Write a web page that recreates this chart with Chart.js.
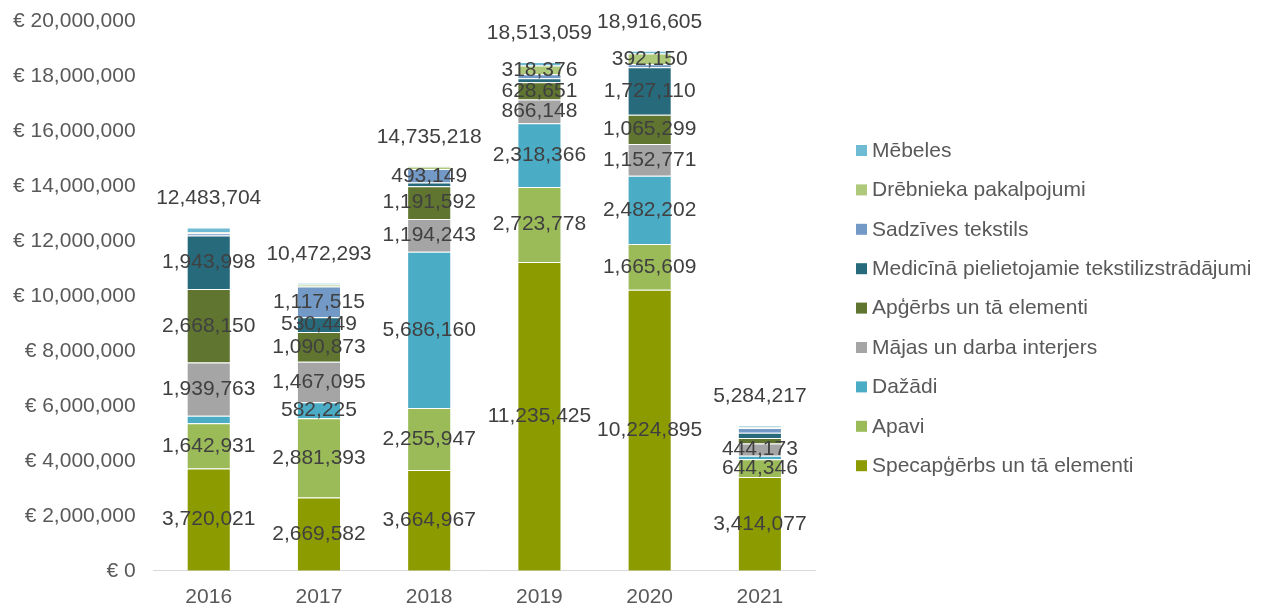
<!DOCTYPE html>
<html>
<head>
<meta charset="utf-8">
<script src="https://cdn.jsdelivr.net/npm/chart.js@4.4.1/dist/chart.umd.min.js"></script>
<style>
    html, body { margin: 0; padding: 0; background: #ffffff; }
    #wrap { width: 1265px; height: 608px; }
</style>
</head>
<body>
<div id="wrap"><canvas id="grafiks" width="1265" height="608"></canvas></div>
<script>
// Gadi (kategorijas)
const gadi = ['2016', '2017', '2018', '2019', '2020', '2021'];

// Sēriju vērtības (EUR), no apakšas uz augšu
const specapgerbs = [3720021, 2669582, 3664967, 11235425, 10224895, 3414077];
const apavi = [1642931, 2881393, 2255947, 2723778, 1665609, 644346];
const dazadi = [278841, 582225, 5686160, 2318366, 2482202, 130000];
const majasInterjers = [1939763, 1467095, 1194243, 866148, 1152771, 444173];
const apgerbs = [2668150, 1090873, 1191592, 628651, 1065299, 200000];
const mediciniskie = [1943998, 530449, 130000, 146315, 1727110, 190000];
const sadzivesTekstils = [85000, 1117515, 493149, 146000, 110000, 170000];
const drebnieks = [35000, 73161, 90000, 318376, 392150, 30000];
const mebeles = [170000, 60000, 29160, 130000, 96569, 61621];

// Kopsummas virs stabiņiem
const kopa = [12483704, 10472293, 14735218, 18513059, 18916605, 5284217];

// Y ass iedaļas
const asisMin = 0;
const asisMax = 20000000;
const asisSolis = 2000000;

const fonts = '"Liberation Sans", Arial, sans-serif';

function formatet(v) {
    return v.toLocaleString('en-US');
}

// Datu etiķetes segmentos un kopsummas virs stabiņiem
const etiketes = {
    id: 'etiketes',
    afterDatasetsDraw(chart) {
        const ctx = chart.ctx;
        ctx.save();
        ctx.font = '21px ' + fonts;
        ctx.fillStyle = '#404040';
        ctx.textAlign = 'center';
        ctx.textBaseline = 'middle';
        chart.data.datasets.forEach((ds, i) => {
            const meta = chart.getDatasetMeta(i);
            meta.data.forEach((bar, j) => {
                const v = ds.data[j];
                if (v < 300000) return; // mazajiem segmentiem etiķetes nav
                ctx.fillText(formatet(v), bar.x, (bar.y + bar.base) / 2);
            });
        });
        const pirma = chart.getDatasetMeta(0);
        kopa.forEach((v, j) => {
            const y = chart.scales.y.getPixelForValue(v) - 29;
            ctx.fillText(formatet(v), pirma.data[j].x, y);
        });
        ctx.restore();
    }
};

// Leģenda labajā pusē (iebūvētā ir par šauru garajam nosaukumam)
const legenda = {
    id: 'legenda',
    afterDraw(chart) {
        const ctx = chart.ctx;
        const area = chart.chartArea;
        const x = area.right + 41;
        const y0 = area.top + 130;
        const solis = 39.4;
        ctx.save();
        ctx.font = '21px ' + fonts;
        ctx.textAlign = 'left';
        ctx.textBaseline = 'middle';
        const ds = chart.data.datasets.slice().reverse();
        ds.forEach((d, k) => {
            const y = y0 + k * solis;
            ctx.fillStyle = d.backgroundColor;
            ctx.fillRect(x, y - 6, 11, 11);
            ctx.fillStyle = '#595959';
            ctx.fillText(d.label, x + 16, y);
        });
        ctx.restore();
    }
};

function serija(nosaukums, dati, krasa) {
    return {
        label: nosaukums,
        data: dati,
        backgroundColor: krasa,
        borderColor: 'rgba(255, 255, 255, 0.55)',
        borderWidth: 1,
        barPercentage: 0.4,
        categoryPercentage: 1
    };
}

const ctx = document.getElementById('grafiks').getContext('2d');
new Chart(ctx, {
    type: 'bar',
    data: {
        labels: gadi,
        datasets: [
            serija('Specapģērbs un tā elementi', specapgerbs, '#8C9C00'),
            serija('Apavi', apavi, '#9BBB59'),
            serija('Dažādi', dazadi, '#4BACC6'),
            serija('Mājas un darba interjers', majasInterjers, '#A5A5A5'),
            serija('Apģērbs un tā elementi', apgerbs, '#5F7530'),
            serija('Medicīnā pielietojamie tekstilizstrādājumi', mediciniskie, '#276A7C'),
            serija('Sadzīves tekstils', sadzivesTekstils, '#7399C6'),
            serija('Drēbnieka pakalpojumi', drebnieks, '#AFC97A'),
            serija('Mēbeles', mebeles, '#6FBBD3')
        ]
    },
    options: {
        responsive: false,
        animation: false,
        layout: {
            padding: { left: -5, top: 0, right: 450, bottom: -16 }
        },
        scales: {
            x: {
                stacked: true,
                grid: { display: false, drawTicks: false },
                border: { display: true, color: '#D9D9D9', width: 1 },
                ticks: {
                    padding: 14,
                    color: '#595959',
                    font: { family: fonts, size: 21 }
                }
            },
            y: {
                stacked: true,
                min: asisMin,
                max: asisMax,
                grid: { display: false, drawTicks: false },
                border: { display: false },
                ticks: {
                    stepSize: asisSolis,
                    padding: 18,
                    color: '#595959',
                    font: { family: fonts, size: 21 },
                    callback: function (v) {
                        return '€ ' + formatet(v);
                    }
                },
                afterFit: function (s) { s.paddingTop = 21; }
            }
        },
        plugins: {
            legend: { display: false },
            tooltip: { enabled: false }
        }
    },
    plugins: [etiketes, legenda]
});
</script>
</body>
</html>
